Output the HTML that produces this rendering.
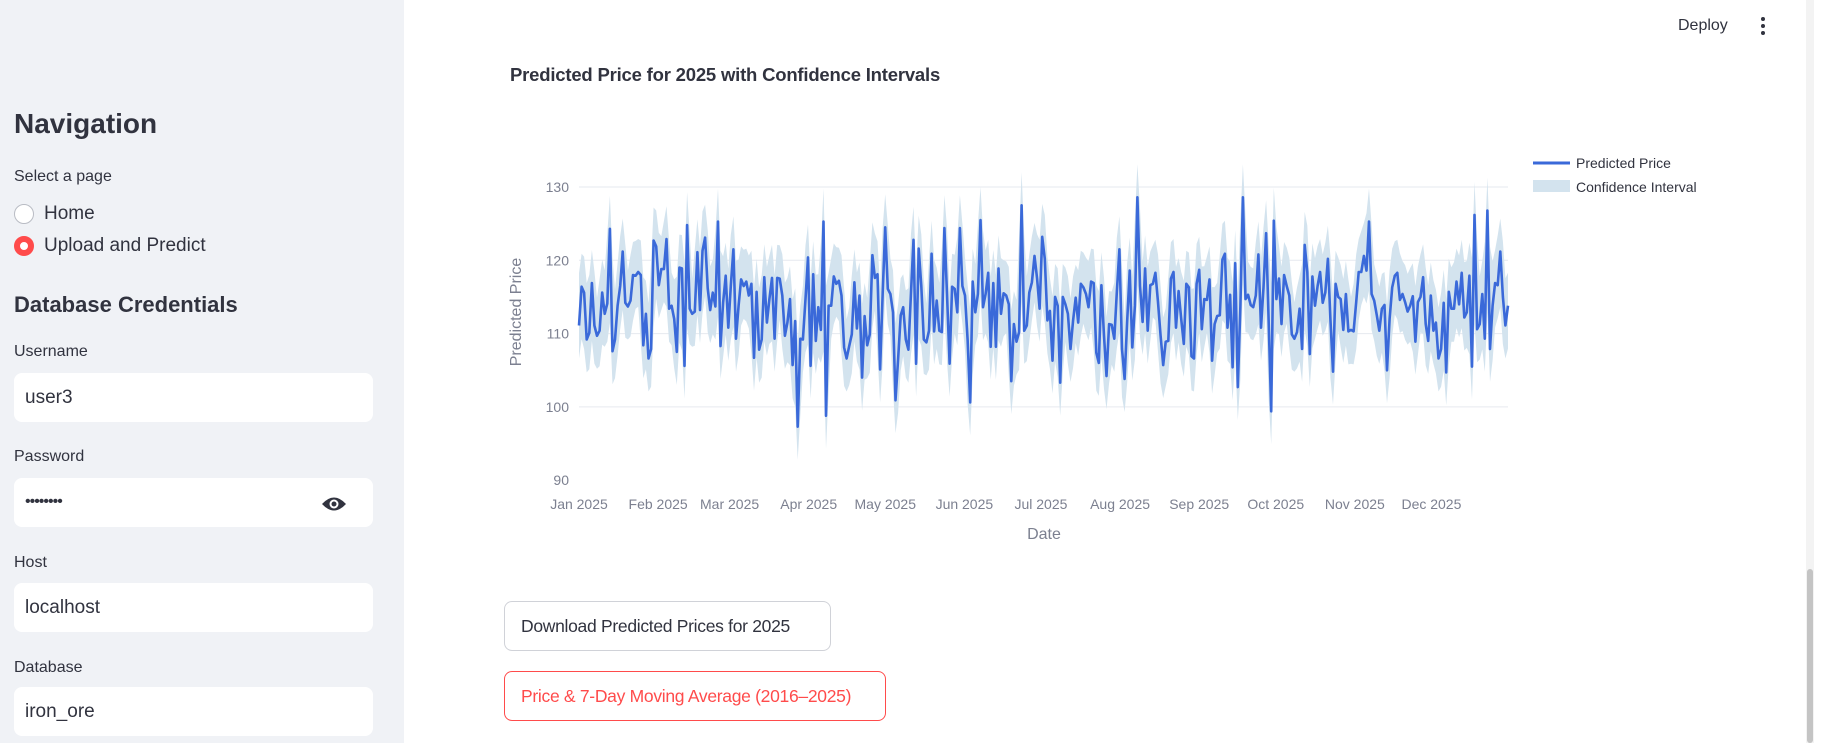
<!DOCTYPE html>
<html><head><meta charset="utf-8">
<style>
*{box-sizing:border-box;margin:0;padding:0}
body{width:1824px;height:743px;overflow:hidden;background:#fff;font-family:"Liberation Sans",sans-serif;color:#31333f;position:relative}
.sb{position:absolute;left:0;top:0;width:404px;height:743px;background:#f0f2f6}
.abs{position:absolute;white-space:nowrap}
.inp{position:absolute;left:14px;width:359px;height:49px;background:#fff;border-radius:8px;font-size:19px;padding:14px 11px;color:#31333f}
.lbl{position:absolute;left:14px;font-size:16px;color:#31333f}
.btn{position:absolute;left:504px;border:1px solid #d0d2d8;border-radius:8px;background:#fff;font-size:17.5px;letter-spacing:-0.3px;padding:0 16px;line-height:48px;height:50px;white-space:nowrap;overflow:hidden}
</style></head><body>
<div class="sb">
  <div class="abs" style="left:14px;top:108px;font-size:28px;font-weight:bold">Navigation</div>
  <div class="abs" style="left:14px;top:168px;font-size:16px">Select a page</div>
  <div class="abs" style="left:14px;top:204px;width:20px;height:20px;border:1px solid #b9bcc4;border-radius:50%;background:#fff"></div>
  <div class="abs" style="left:44px;top:203px;font-size:19px">Home</div>
  <div class="abs" style="left:14px;top:236px;width:20px;height:20px;border:6px solid #ff4b4b;border-radius:50%;background:#fff"></div>
  <div class="abs" style="left:44px;top:235px;font-size:19px">Upload and Predict</div>
  <div class="abs" style="left:14px;top:292px;font-size:22px;font-weight:bold">Database Credentials</div>
  <div class="lbl" style="top:343px">Username</div>
  <div class="inp" style="top:373px">user3</div>
  <div class="lbl" style="top:448px">Password</div>
  <div class="inp" style="top:478px;font-size:16px;letter-spacing:-1px;padding-top:15px">••••••••</div>
  <svg class="abs" style="left:321px;top:494px" width="26" height="20" viewBox="0 0 26 20"><path d="M1 10 Q13 -3 25 10 Q13 23 1 10Z" fill="#31333f"/><circle cx="13" cy="10" r="4.5" fill="#fff"/><circle cx="13" cy="10" r="2.5" fill="#31333f"/></svg>
  <div class="lbl" style="top:554px">Host</div>
  <div class="inp" style="top:583px">localhost</div>
  <div class="lbl" style="top:659px">Database</div>
  <div class="inp" style="top:687px">iron_ore</div>
</div>
<div class="abs" style="left:1678px;top:17px;font-size:16px">Deploy</div>
<div class="abs" style="left:1761px;top:17px;width:4px;height:20px">
  <div style="width:4px;height:4px;border-radius:2px;background:#31333f;margin-bottom:3px"></div>
  <div style="width:4px;height:4px;border-radius:2px;background:#31333f;margin-bottom:3px"></div>
  <div style="width:4px;height:4px;border-radius:2px;background:#31333f"></div>
</div>
<div class="abs" style="left:1806px;top:0;width:8px;height:743px;background:#f3f3f3"></div>
<div class="abs" style="left:1807px;top:569px;width:6px;height:174px;background:#c4c4c4;border-radius:3px"></div>
<div class="abs" style="left:510px;top:64px;font-size:18.5px;font-weight:bold;letter-spacing:-0.2px">Predicted Price for 2025 with Confidence Intervals</div>
<div class="btn" style="top:601px;width:327px">Download Predicted Prices for 2025</div>
<div class="btn" style="top:671px;width:382px;border-color:#ff4b4b;color:#ff4b4b">Price &amp; 7-Day Moving Average (2016–2025)</div>
<svg id="chart" class="abs" style="left:0;top:0" width="1824" height="743"></svg>
<script>
const predicted=[111.1,116.4,115.6,109.2,110.1,116.9,111.1,109.7,110.4,115.6,112.7,114.1,124.3,107.6,109.2,113.8,116.5,121.2,114.2,113.7,114.5,118,117.9,118.4,118,108.4,112.7,106.6,107.9,122.7,121.9,116.6,118.8,118.8,122.9,113.4,113.8,112,107.5,119,118.9,105.6,124.8,113.4,112.7,113,121.1,113.2,121.3,123.1,116.2,113.2,115.6,113.7,125.3,108.3,114.2,117.9,110.8,116.5,121.5,109.3,113.8,117.4,116.5,117.1,115.2,116.8,106.7,115.7,107.8,109.2,117.7,111.5,114.7,117.6,109.3,117.6,117.5,115.2,109.7,111.5,114.7,105.7,111.7,97.3,109.3,109.2,114.7,120.4,
105.6,118.1,109,113.6,110.5,125.3,98.8,113.8,113.8,117.8,116.8,117.2,115.2,108.1,106.6,108.3,109.9,117,110.7,115.2,104,112.4,108.4,109.9,120.7,117.6,118.1,105.1,115.6,124.5,116.1,115.4,112.9,100.9,106.5,112.5,113.6,109.2,107.8,115.6,122.8,105.9,121.6,116.5,109.2,108.8,110.4,120.9,110.3,114.5,110.4,110.2,124.4,115.4,105.9,116.4,116.1,112.9,124.4,116.5,115.2,109.2,100.6,117.1,112.9,115.4,125.5,113.6,115.4,118.3,108.2,116.9,108.2,118.9,112.7,115.5,115.2,114,103.5,111.3,108.9,110.2,127.5,110.4,111.1,115.6,117,120.6,117.5,113.4,123.2,120.2,
111.8,113.1,106.3,115,113.8,103.3,115,114,112.7,107.9,111.8,114.9,111.5,116.8,116.3,115.4,113.6,117.1,116.9,107.4,106,116.6,109.7,104.2,111.3,111.2,109.3,115.6,121.5,107.9,103.8,111.5,118.6,108.1,113.8,128.6,116.5,111.6,118.9,110.4,116.6,116.8,118.3,114.3,109.7,105.7,108.9,109,117.5,118.4,110.8,115.8,112,108.6,116.8,116.3,106.9,106.6,116.8,118.7,110.6,114.7,114.6,117.4,106.3,111.3,112.4,112.5,120.1,120.9,110.8,115.3,105.4,119.6,102.7,113.8,128.6,114.7,115.3,113.9,113.6,115.2,120.8,110.8,116.3,123.7,111.5,99.4,125.4,114.7,117.5,111.3,
118,116.5,115.2,109.9,109.3,110.2,113.4,107.9,122.1,118.4,107.2,117.8,113.8,116.5,118.4,114.2,115.6,120.2,112,104.8,116.8,115,114.7,110.5,115.4,110.3,110.5,110.3,114.3,118.4,118.4,120.6,118.6,125.3,115.4,114.5,112.5,110.4,113.4,113.9,105,112,116.3,117.9,118.3,114.6,115.4,114.3,113,113.8,115.1,108.9,114.3,115,117.7,111.3,109,115.2,110.4,111.5,106.6,107.9,114.2,104.7,115.7,113.4,113.4,117.1,114,118.3,112.2,112.9,117.9,105.5,126.2,110.6,111.3,115.4,109.3,126.8,107.9,113.8,116.9,116.6,121.2,115,111.1,113.8];
const ciHalfWidth=[4.5];
const yTicks=[90,100,110,120,130];
const gridTicks=[100,110,120,130];
const monthLabels=["Jan 2025","Feb 2025","Mar 2025","Apr 2025","May 2025","Jun 2025","Jul 2025","Aug 2025","Sep 2025","Oct 2025","Nov 2025","Dec 2025"];
const monthStartDays=[0,31,59,90,120,151,181,212,243,273,304,334];

const NS="http://www.w3.org/2000/svg";
const svg=document.getElementById('chart');
const X0=579,X1=1508,Y0=187,YPX=7.33;
const dayCount=365;
function xScale(d){return X0+d*(X1-X0)/(dayCount-1);}
function xIdx(i){return X0+i*(X1-X0)/(predicted.length-1);}
function yScale(v){return Y0+(130-v)*YPX;}
function mk(tag,attrs){const e=document.createElementNS(NS,tag);for(const k in attrs)e.setAttribute(k,attrs[k]);svg.appendChild(e);return e;}

gridTicks.forEach(t=>{
  const l=mk('line',{x1:X0,x2:X1,y1:yScale(t),y2:yScale(t),stroke:'#e6e9ef','stroke-width':1});
  
  
});
yTicks.forEach(t=>{
  const tx=mk('text',{x:569,y:yScale(t)+5,'text-anchor':'end','font-size':14,fill:'#7c8090','font-family':'Liberation Sans, sans-serif'});
  tx.textContent=t;
  
  
});
monthLabels.forEach((m,i)=>{
  const tx=mk('text',{x:xScale(monthStartDays[i]),y:509,'text-anchor':'middle','font-size':14,fill:'#7c8090','font-family':'Liberation Sans, sans-serif'});
  tx.textContent=m;
  
  
});
const hw=ciHalfWidth[0];
const n=predicted.length;
let up=[],lo=[];
for(let i=0;i<n;i++){
  const a=predicted[Math.max(0,i-1)],b=predicted[i],c=predicted[Math.min(n-1,i+1)];
  up.push(xIdx(i).toFixed(1)+','+yScale(Math.max(b,(a+b)/2,(b+c)/2)+hw).toFixed(1));
  lo.push(xIdx(i).toFixed(1)+','+yScale(Math.min(b,(a+b)/2,(b+c)/2)-hw).toFixed(1));
}
const band=mk('polygon',{points:up.concat(lo.reverse()).join(' '),fill:'#d3e3ee',stroke:'none'});


const pts=predicted.map((v,i)=>xIdx(i).toFixed(1)+','+yScale(v).toFixed(1)).join(' ');
const line=mk('polyline',{points:pts,fill:'none',stroke:'#3a69d9','stroke-width':2.6,'stroke-linejoin':'round'});



const yt=mk('text',{x:0,y:0,transform:'translate(521,312) rotate(-90)','text-anchor':'middle','font-size':16,fill:'#7c8090','font-family':'Liberation Sans, sans-serif'});
yt.textContent='Predicted Price';


const xt=mk('text',{x:1044,y:539,'text-anchor':'middle','font-size':16,fill:'#7c8090','font-family':'Liberation Sans, sans-serif'});
xt.textContent='Date';



const l1=mk('line',{x1:1533,x2:1570,y1:163,y2:163,stroke:'#3a69d9','stroke-width':3});


const t1=mk('text',{x:1576,y:168,'font-size':14,fill:'#31333f','font-family':'Liberation Sans, sans-serif'});
t1.textContent='Predicted Price';


const r2=mk('rect',{x:1533,y:180,width:37,height:12,fill:'#d3e3ee'});


const t2=mk('text',{x:1576,y:192,'font-size':14,fill:'#31333f','font-family':'Liberation Sans, sans-serif'});
t2.textContent='Confidence Interval';


</script>
</body></html>
